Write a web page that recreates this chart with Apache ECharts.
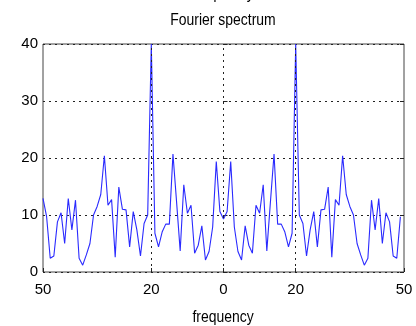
<!DOCTYPE html>
<html><head><meta charset="utf-8">
<script src="https://cdn.jsdelivr.net/npm/echarts@6/dist/echarts.min.js"></script>
<style>html,body{margin:0;padding:0;background:#fff}#c{width:416px;height:326px}</style>
</head><body><div id="c"></div>
<script>
const titleText = 'Fourier spectrum';
const topCutText = 'frequency';
const xLabelText = 'frequency';
const freqs = [-50,-49,-48,-47,-46,-45,-44,-43,-42,-41,-40,-39,-38,-37,-36,-35,-34,-33,-32,-31,
 -30,-29,-28,-27,-26,-25,-24,-23,-22,-21,-20,-19,-18,-17,-16,-15,-14,-13,-12,-11,
 -10,-9,-8,-7,-6,-5,-4,-3,-2,-1,0,1,2,3,4,5,6,7,8,9,10,11,12,13,14,15,16,17,18,19,
 20,21,22,23,24,25,26,27,28,29,30,31,32,33,34,35,36,37,38,39,40,41,42,43,44,45,46,47,48,49];
const amplitude = [12.9, 9.7, 2.4, 2.8, 8.8, 10.4, 5.0, 12.9, 7.4, 12.6,
 2.4, 1.2, 3.0, 5.0, 10.0, 11.5, 13.6, 20.4, 11.7, 12.7,
 2.6, 14.9, 11.0, 10.9, 4.4, 10.6, 7.4, 2.8, 8.5, 10.0,
 40, 6.8, 4.4, 7.0, 8.4, 8.4, 20.7, 12.3, 3.7, 15.3,
 10.3, 11.7, 3.3, 4.7, 8.1, 2.1, 3.6, 7.9, 19.4, 10.6,
 9.3,
 10.6, 19.4, 7.9, 3.6, 2.1, 8.1, 4.7, 3.3, 11.7, 10.3,
 15.3, 3.7, 12.3, 20.7, 8.4, 8.4, 7.0, 4.4, 6.8, 40,
 10.0, 8.5, 2.8, 7.4, 10.6, 4.4, 10.9, 11.0, 14.9, 2.6,
 12.7, 11.7, 20.4, 13.6, 11.5, 10.0, 5.0, 3.0, 1.2, 2.4,
 12.6, 7.4, 12.9, 5.0, 10.4, 8.8, 2.8, 2.4, 9.7];
const xTickValues = [-50, -20, 0, 20, 50];
const xTickLabels = ['50', '20', '0', '20', '50'];
const xGridValues = [-20, 0, 20];
const yTickLabels = ['0', '10', '20', '30', '40'];

const FONT = '"Liberation Sans", Arial, sans-serif';
const chart = echarts.init(document.getElementById('c'), null, {renderer: 'canvas'});
const gridLine = {color: '#222', width: 1, type: [2, 4]};
const option = {
  animation: false,
  backgroundColor: '#fff',
  grid: {left: 43, right: 12, top: 44, bottom: 54, show: true, borderColor: '#444', borderWidth: 1, backgroundColor: 'transparent'},
  xAxis: [{
    type: 'value', min: -50, max: 50, position: 'bottom',
    axisLine: {show: false},
    axisTick: {show: true, inside: true, length: 4, customValues: xTickValues, lineStyle: {color: '#222'}},
    axisLabel: {show: true, customValues: xTickValues, margin: 10, fontFamily: FONT, fontSize: 15, color: '#000',
      formatter: function (v) { const i = xTickValues.indexOf(v); return i >= 0 ? xTickLabels[i] : ''; }},
    splitLine: {show: false}
  }],
  yAxis: [{
    type: 'value', min: 0, max: 40, interval: 10,
    axisLine: {show: false},
    axisTick: {show: true, inside: true, length: 4, lineStyle: {color: '#222'}},
    axisLabel: {margin: 5, fontFamily: FONT, fontSize: 15, color: '#000',
      formatter: function (v) { return yTickLabels[Math.round(v / 10)]; }},
    splitLine: {show: true, lineStyle: gridLine}
  }, {
    type: 'value', min: 0, max: 40, interval: 10, position: 'right',
    axisLine: {show: false},
    axisTick: {show: true, inside: true, length: 4, lineStyle: {color: '#222'}},
    axisLabel: {show: false}, splitLine: {show: false}
  }],
  series: [{
    type: 'line', xAxisIndex: 0, yAxisIndex: 0,
    data: freqs.map((f, i) => [f, amplitude[i]]),
    showSymbol: false, symbol: 'none',
    lineStyle: {color: '#2a2aff', width: 1.1},
    markLine: {silent: true, symbol: 'none', label: {show: false}, lineStyle: gridLine,
      data: xGridValues.map(v => ({xAxis: v}))},
    z: 3
  }],
  graphic: [
    {type: 'text', x: 223, y: -14, scaleX: 0.82, style: {text: topCutText, align: 'center', font: '17px ' + FONT, fill: '#000'}},
    {type: 'text', x: 223, y: 12, scaleX: 0.82, style: {text: titleText, align: 'center', font: '17px ' + FONT, fill: '#000'}},
    {type: 'text', x: 223, y: 309, scaleX: 0.82, style: {text: xLabelText, align: 'center', font: '17px ' + FONT, fill: '#000'}}
  ]
};
chart.setOption(option);
</script></body></html>
